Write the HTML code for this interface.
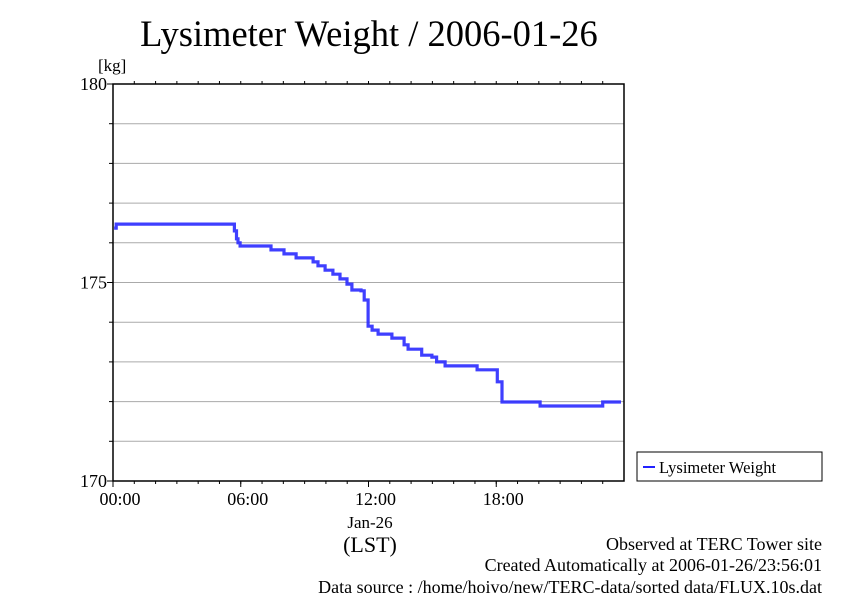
<!DOCTYPE html>
<html><head><meta charset="utf-8"><style>
body{margin:0;background:#fff;}
svg text{font-family:"Liberation Serif",serif;fill:#000;}
</style></head><body>
<svg width="842" height="595" viewBox="0 0 842 595">
<text x="369" y="46" font-size="36.5" text-anchor="middle">Lysimeter Weight / 2006-01-26</text>
<text x="98" y="71" font-size="17">[kg]</text>
<g id="grid"></g>
<g id="axes"></g>
<polyline id="series" fill="none" stroke="#2a2aff" stroke-width="3.2" stroke-opacity="0.9" stroke-linejoin="miter"/>
<text x="370" y="528" font-size="17" text-anchor="middle">Jan-26</text>
<text x="370" y="552" font-size="22" text-anchor="middle">(LST)</text>
<g>
<rect x="637" y="452" width="185" height="29" fill="#fff" stroke="#000" stroke-width="1"/>
<line x1="643" y1="467" x2="655" y2="467" stroke="#2222ff" stroke-width="2"/>
<text x="659" y="473" font-size="16.5">Lysimeter Weight</text>
</g>
<text x="822" y="550" font-size="18" text-anchor="end">Observed at TERC Tower site</text>
<text x="822" y="571" font-size="18" text-anchor="end">Created Automatically at 2006-01-26/23:56:01</text>
<text x="822" y="593" font-size="18" text-anchor="end">Data source : /home/hoivo/new/TERC-data/sorted  data/FLUX.10s.dat</text>
</svg>
<script>
const hours=[0.05,0.15,5.64,5.7,5.8,5.87,5.97,7.37,7.42,7.98,8.03,8.55,8.6,9.25,9.4,9.63,9.96,10.33,10.66,10.99,11.22,11.65,11.8,11.98,12.17,12.45,13.0,13.1,13.5,13.67,13.86,14.42,14.5,14.98,15.2,15.6,17.0,17.1,17.94,18.05,18.27,19.96,20.06,22.92,23.0,23.86];
const weights=[176.37,176.47,176.47,176.3,176.1,176.0,175.92,175.92,175.82,175.82,175.72,175.72,175.62,175.62,175.52,175.42,175.31,175.21,175.09,174.96,174.81,174.79,174.56,173.9,173.8,173.7,173.7,173.6,173.6,173.43,173.32,173.32,173.17,173.12,173.0,172.9,172.9,172.8,172.8,172.5,171.99,171.99,171.89,171.89,171.99,171.99];
const yTicks=[170,175,180];
const xTickLabels=["00:00","06:00","12:00","18:00"];
const xTickHours=[0,6,12,18];
const X0=113,X1=624,Y0=84,Y1=481,NS="http://www.w3.org/2000/svg";
const xs=h=>X0+(X1-X0)*h/24;
const ys=v=>Y1-(Y1-Y0)*(v-170)/10;
const grid=document.getElementById('grid'),axes=document.getElementById('axes');
function mk(p,tag,a){const e=document.createElementNS(NS,tag);for(const k in a)e.setAttribute(k,a[k]);p.appendChild(e);return e;}
for(let v=171;v<180;v++){const l=mk(grid,'line',{x1:X0,x2:X1,y1:ys(v),y2:ys(v),stroke:'#aaa','stroke-width':1});


mk(axes,'line',{x1:X0-4,x2:X0,y1:ys(v),y2:ys(v),stroke:'#000'});}
yTicks.forEach(v=>{mk(axes,'line',{x1:X0-6,x2:X0,y1:ys(v),y2:ys(v),stroke:'#000'});
const t=mk(axes,'text',{x:X0-6,y:ys(v)+6,'font-size':18,'text-anchor':'end'});t.textContent=v;

});
for(let h=1;h<24;h++){mk(axes,'line',{x1:xs(h),x2:xs(h),y1:Y0,y2:Y0-3,stroke:'#000'});mk(axes,'line',{x1:xs(h),x2:xs(h),y1:Y1,y2:Y1+3,stroke:'#000'});}
xTickHours.forEach((h,i)=>{mk(axes,'line',{x1:xs(h),x2:xs(h),y1:Y1,y2:Y1+6,stroke:'#000'});
const t=mk(axes,'text',{x:xs(h)+7,y:Y1+24,'font-size':18,'text-anchor':'middle'});t.textContent=xTickLabels[i];

});
const fr=mk(axes,'rect',{x:X0,y:Y0,width:X1-X0,height:Y1-Y0,fill:'none',stroke:'#000','stroke-width':1.5});


const pts=[];
hours.forEach((h,i)=>{if(i>0)pts.push(xs(h).toFixed(1)+','+ys(weights[i-1]).toFixed(1));pts.push(xs(h).toFixed(1)+','+ys(weights[i]).toFixed(1));});
document.getElementById('series').setAttribute('points',pts.join(' '));
</script>
</body></html>
